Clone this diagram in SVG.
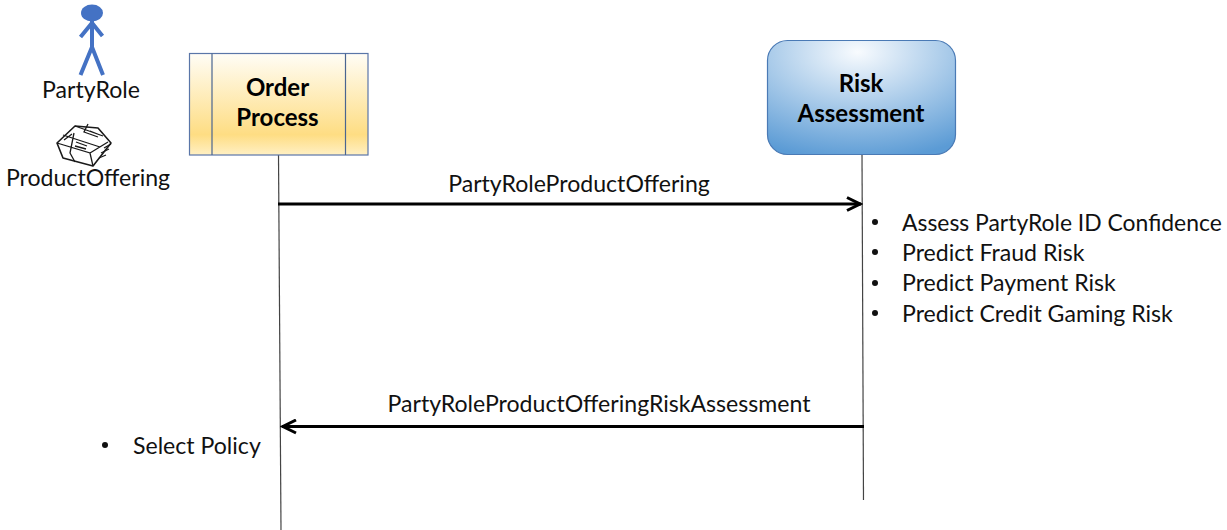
<svg xmlns="http://www.w3.org/2000/svg" width="1227" height="530" viewBox="0 0 1227 530">
<style>
text{font-family:"Lato","Carlito","Open Sans",sans-serif;fill:#111;font-size:23.100px}
.b{font-weight:700;font-size:24px;text-anchor:middle;fill:#000}
.m{text-anchor:middle}
.dot{fill:#111}
.life{stroke:#444;stroke-width:1.2;fill:none}
.msg{stroke:#000;stroke-width:3;fill:none}
.fig{stroke:#4472c4;stroke-width:4;fill:none}
.pk{stroke:#1a1a1a;stroke-width:1.6;fill:#fff;stroke-linejoin:round}
.pl{stroke:#1a1a1a;stroke-width:1.3;fill:none}
</style>
<defs>
<linearGradient id="y" x1="0" y1="0" x2="0" y2="1"><stop offset="0" stop-color="#fffdf6"/><stop offset=".8" stop-color="#fedd83"/><stop offset="1" stop-color="#fff0c4"/></linearGradient>
<radialGradient id="bl" cx=".48" cy=".1" r=".95"><stop offset="0" stop-color="#f8fbfe"/><stop offset="1" stop-color="#5b9bd5"/></radialGradient>
<marker id="a" markerUnits="userSpaceOnUse" markerWidth="18" markerHeight="16" refX="16" refY="8" orient="auto-start-reverse"><path d="M2 1.500L15 8L2 14.500" fill="none" stroke="#000" stroke-width="3"/></marker>
</defs>
<g id="connectors">
<path class="life" d="M278.500 155L281 530"/>
<path class="life" d="M862 155L863.500 500"/>
<path class="msg" marker-end="url(#a)" d="M278 204H861"/>
<path class="msg" marker-end="url(#a)" d="M864 426.500H282"/>
<text class="m" x="579" y="191.500">PartyRoleProductOffering</text>
<text class="m" x="599" y="411.500">PartyRoleProductOfferingRiskAssessment</text>
</g>
<g id="party-role">
<ellipse cx="92" cy="13" rx="11" ry="8.500" fill="#4472c4"/>
<path class="fig" d="M92 21V47M80.500 75L92 47L103 75M80.500 37L92 23L102.500 36"/>
<text class="m" x="91" y="97.500">PartyRole</text>
</g>
<g id="product-offering">
<path class="pk" d="M57 143L75 126L98 128L111 143L93 166L63 158Z"/>
<path class="pl" d="M57 143L90 153L93 166M90 153L108 142M75 126L103 136M63 135L100 147M74 133L70 153L75 162M64 140L72 134M88 124L84 132L98 137M76 142L87 146M75 146L86 149M90 131L100 135M104 148L111 144M101 153L109 149M99 158L106 155"/>
<text class="m" x="88" y="185.500">ProductOffering</text>
</g>
<g id="order-process">
<rect x="189.500" y="53.500" width="178.500" height="101.500" fill="url(#y)" stroke="#5a76a8" stroke-width="1.2"/>
<path d="M212 53.500V155M345.500 53.500V155" stroke="#4a6590" stroke-width="1.2" fill="none"/>
<text class="b" x="277.500" y="96">Order</text>
<text class="b" x="277.500" y="126">Process</text>
</g>
<g id="risk-assessment">
<rect x="767.500" y="40.500" width="188" height="114" rx="20" fill="url(#bl)" stroke="#4a7ab5" stroke-width="1.2"/>
<text class="b" x="861" y="92">Risk</text>
<text class="b" x="861" y="122">Assessment</text>
</g>
<g id="risk-notes">
<circle class="dot" cx="875" cy="222" r="3"/><text x="902" y="231" style="font-size:22.900px">Assess PartyRole ID Confidence</text>
<circle class="dot" cx="875" cy="252" r="3"/><text x="902" y="261">Predict Fraud Risk</text>
<circle class="dot" cx="875" cy="283" r="3"/><text x="902" y="291">Predict Payment Risk</text>
<circle class="dot" cx="875" cy="313" r="3"/><text x="902" y="321.500">Predict Credit Gaming Risk</text>
</g>
<g id="order-notes">
<circle class="dot" cx="105" cy="445" r="3"/><text x="133" y="454">Select Policy</text>
</g>
</svg>
